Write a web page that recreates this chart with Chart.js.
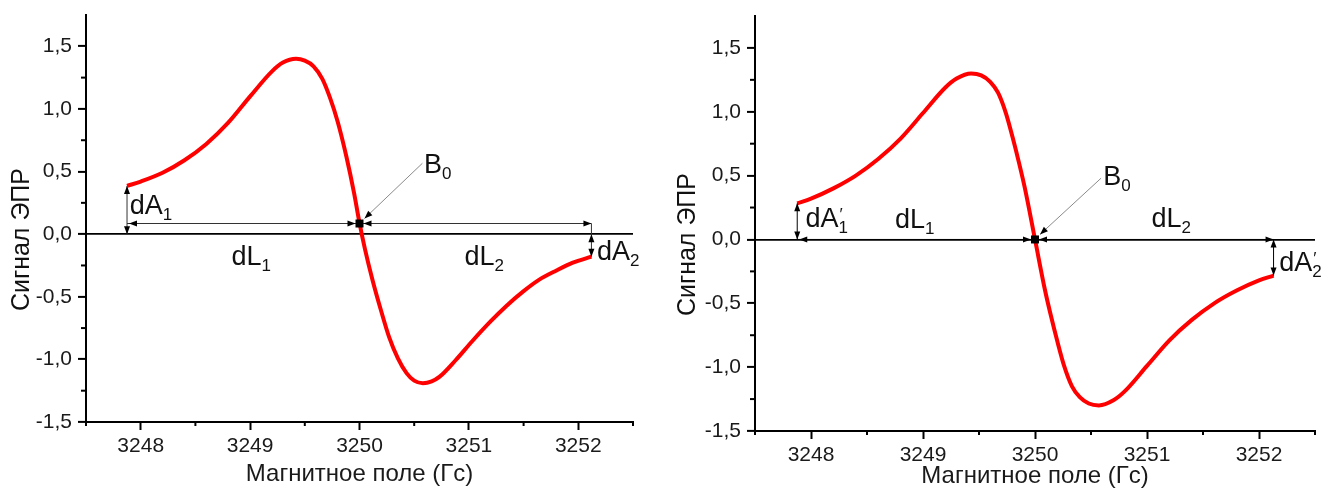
<!DOCTYPE html>
<html>
<head>
<meta charset="utf-8">
<script src="https://cdn.jsdelivr.net/npm/chart.js@4"></script>
<style>
  body { margin: 0; background: #fff; }
  canvas { position: absolute; top: 0; }
</style>
</head>
<body>
<canvas id="left" width="663" height="491" style="left:0"></canvas>
<canvas id="right" width="663" height="491" style="left:663px"></canvas>
<script>
// магнитное поле (Гс) и сигнал ЭПР
const fieldL = [3247.875, 3248.0, 3248.2, 3248.4, 3248.6, 3248.8, 3249.0, 3249.2, 3249.3, 3249.42,
  3249.5, 3249.58, 3249.66, 3249.73, 3249.8, 3249.88, 3249.95, 3250.0, 3250.05, 3250.12, 3250.2,
  3250.27, 3250.35, 3250.43, 3250.5, 3250.58, 3250.66, 3250.73, 3250.88, 3251.03, 3251.2,
  3251.34, 3251.5, 3251.64, 3251.8, 3251.95, 3252.12];
const signalL = [0.385, 0.42, 0.49, 0.59, 0.72, 0.89, 1.10, 1.30, 1.37, 1.40,
  1.385, 1.34, 1.24, 1.09, 0.90, 0.62, 0.33, 0.09, -0.12, -0.37, -0.62,
  -0.82, -0.99, -1.11, -1.17, -1.19, -1.175, -1.14, -1.005, -0.855, -0.695,
  -0.575, -0.455, -0.365, -0.29, -0.228, -0.18];

const fieldR = [3247.877, 3248.0, 3248.2, 3248.4, 3248.6, 3248.8, 3249.0, 3249.2, 3249.3, 3249.43,
  3249.52, 3249.6, 3249.67, 3249.74, 3249.8, 3249.86, 3249.91, 3250.0, 3250.09, 3250.14,
  3250.2, 3250.26, 3250.33, 3250.4, 3250.48, 3250.57, 3250.7, 3250.8, 3251.0, 3251.2,
  3251.4, 3251.6, 3251.8, 3252.0, 3252.13];
const signalR = [0.283, 0.32, 0.40, 0.50, 0.63, 0.79, 0.99, 1.19, 1.26, 1.30,
  1.285, 1.235, 1.15, 0.99, 0.80, 0.59, 0.40, 0.0, -0.40, -0.59,
  -0.80, -0.99, -1.15, -1.235, -1.285, -1.30, -1.26, -1.19, -0.99, -0.79,
  -0.63, -0.50, -0.40, -0.32, -0.283];

const xTicks = [3248, 3249, 3250, 3251, 3252];
const xMinorTicks = [3247.5, 3248.5, 3249.5, 3250.5, 3251.5, 3252.5];
const yTicks = [-1.5, -1.0, -0.5, 0, 0.5, 1.0, 1.5];
const yMinorTicks = [-1.25, -0.75, -0.25, 0.25, 0.75, 1.25];

// подписи на графиках (в единицах осей)
const labelsL = [
  { main: 'dA', sub: '1', at: [3247.90, 0.16] },
  { main: 'dL', sub: '1', at: [3248.83, -0.247] },
  { main: 'B', sub: '0', at: [3250.59, 0.487] },
  { main: 'dL', sub: '2', at: [3250.96, -0.247] },
  { main: 'dA', sub: '2', at: [3252.17, -0.207] }
];
const labelsR = [
  { main: 'dA', sub: '1', prime: true, at: [3247.95, 0.10] },
  { main: 'dL', sub: '1', at: [3248.75, 0.09] },
  { main: 'B', sub: '0', at: [3250.61, 0.426] },
  { main: 'dL', sub: '2', at: [3251.04, 0.10] },
  { main: 'dA', sub: '2', prime: true, at: [3252.18, -0.25] }
];

const FONT = '"Liberation Sans", Arial, sans-serif';

function segment(ctx, x1, y1, x2, y2) {
  ctx.beginPath();
  ctx.moveTo(x1, y1);
  ctx.lineTo(x2, y2);
  ctx.stroke();
}

function arrowHead(ctx, x, y, dx, dy) {
  const len = 8, half = 3;
  const bx = x - dx * len, by = y - dy * len;
  ctx.beginPath();
  ctx.moveTo(x, y);
  ctx.lineTo(bx - dy * half, by + dx * half);
  ctx.lineTo(bx + dy * half, by - dx * half);
  ctx.closePath();
  ctx.fill();
}

function drawLabel(ctx, x, y, l) {
  ctx.font = '27px ' + FONT;
  ctx.fillText(l.main, x, y);
  const w = ctx.measureText(l.main).width;
  ctx.font = '17px ' + FONT;
  if (l.prime) ctx.fillText('′', x + w + 1, y - 7);
  ctx.fillText(l.sub, x + w, y + 6);
}

const eprMarks = {
  id: 'eprMarks',
  afterDatasetsDraw(chart, args, o) {
    const { ctx, chartArea: a, scales: { x, y } } = chart;
    const px = v => x.getPixelForValue(v), py = v => y.getPixelForValue(v);
    ctx.save();

    // малые деления
    ctx.strokeStyle = '#000';
    ctx.lineWidth = 2;
    xMinorTicks.forEach(v => segment(ctx, px(v), a.bottom, px(v), a.bottom + 4));
    yMinorTicks.forEach(v => segment(ctx, a.left - 5, py(v), a.left, py(v)));

    const bx = px(o.b0[0]), by = py(o.b0[1]);
    const sx = px(o.start[0]), sy = py(o.start[1]);
    const ex = px(o.end[0]), ey = py(o.end[1]);
    const ly = py(o.lineY), zy = py(0);

    ctx.strokeStyle = o.lineColor;
    ctx.fillStyle = '#000';
    ctx.lineWidth = 1;
    // dL1, dL2
    segment(ctx, sx, ly, ex, ly);
    arrowHead(ctx, sx + 2, ly, -1, 0);
    arrowHead(ctx, bx - 4, ly, 1, 0);
    arrowHead(ctx, bx + 4, ly, -1, 0);
    arrowHead(ctx, ex, ly, 1, 0);
    // dA1, dA2
    segment(ctx, sx, sy, sx, zy);
    arrowHead(ctx, sx, sy, 0, -1);
    arrowHead(ctx, sx, zy, 0, 1);
    segment(ctx, ex, ly, ex, ey);
    arrowHead(ctx, ex, zy, 0, -1);
    arrowHead(ctx, ex, ey, 0, 1);

    // указатель B0
    const fx = px(o.pointer[0]), fy = py(o.pointer[1]);
    const tx = bx + 5, ty = by - 5;
    ctx.strokeStyle = '#8a8a8a';
    segment(ctx, fx, fy, tx, ty);
    const d = Math.hypot(tx - fx, ty - fy);
    arrowHead(ctx, tx, ty, (tx - fx) / d, (ty - fy) / d);
    ctx.fillRect(bx - 4, by - 4, 8, 8);

    ctx.fillStyle = '#111';
    ctx.textAlign = 'left';
    ctx.textBaseline = 'alphabetic';
    o.labels.forEach(l => drawLabel(ctx, px(l.at[0]), py(l.at[1]), l));

    // подпись оси Y
    ctx.translate(o.yTitleX, (a.top + a.bottom) / 2 + 21);
    ctx.rotate(-Math.PI / 2);
    ctx.textAlign = 'center';
    ctx.textBaseline = 'middle';
    ctx.font = '25px ' + FONT;
    ctx.fillText('Сигнал ЭПР', 0, 0);
    ctx.restore();
  }
};

function makeChart(id, field, signal, area, marks) {
  const ctx = document.getElementById(id).getContext('2d');
  return new Chart(ctx, {
    type: 'line',
    data: {
      datasets: [{
        data: field.map((f, i) => ({ x: f, y: signal[i] })),
        borderColor: '#ff0000',
        borderWidth: 4,
        pointRadius: 0,
        fill: false,
        cubicInterpolationMode: 'monotone'
      }]
    },
    options: {
      responsive: false,
      animation: false,
      layout: { padding: { top: area.top, right: 663 - area.right, left: 0, bottom: 0 } },
      scales: {
        x: {
          type: 'linear',
          min: 3247.5,
          max: 3252.5,
          afterBuildTicks: s => { s.ticks = xTicks.map(v => ({ value: v })); },
          afterFit: s => { s.height = 491 - area.bottom; s.paddingLeft = 0; s.paddingRight = 0; },
          grid: { drawOnChartArea: false, tickLength: 8, tickWidth: 2, tickColor: '#000' },
          border: { color: '#000', width: 2 },
          ticks: {
            color: '#1a1a1a',
            font: { family: FONT, size: 21 },
            padding: 4,
            maxRotation: 0,
            autoSkip: false,
            callback: v => String(v)
          },
          title: {
            display: true,
            text: 'Магнитное поле (Гс)',
            color: '#1a1a1a',
            font: { family: FONT, size: 24 },
            padding: { top: 0, bottom: area.titlePad }
          }
        },
        y: {
          min: -1.5,
          max: 1.75,
          afterBuildTicks: s => { s.ticks = yTicks.map(v => ({ value: v })); },
          afterFit: s => { s.width = area.left; s.paddingTop = 0; s.paddingBottom = 0; },
          grid: {
            color: c => (c.tick && c.tick.value === 0 ? '#000' : 'rgba(0,0,0,0)'),
            lineWidth: 1.8,
            tickLength: 8,
            tickWidth: 2,
            tickColor: '#000'
          },
          border: { color: '#000', width: 2 },
          ticks: {
            color: '#1a1a1a',
            font: { family: FONT, size: 21 },
            padding: 6,
            autoSkip: false,
            callback: v => v.toFixed(1).replace('.', ',')
          }
        }
      },
      plugins: {
        legend: { display: false },
        tooltip: { enabled: false },
        eprMarks: marks
      }
    },
    plugins: [eprMarks]
  });
}

makeChart('left', fieldL, signalL,
  { left: 86, right: 633, top: 15, bottom: 422, titlePad: 2 },
  { b0: [3250, 0.085], lineY: 0.085, start: [3247.875, 0.385], end: [3252.12, -0.18],
    pointer: [3250.575, 0.566], lineColor: '#333', labels: labelsL, yTitleX: 22 });

makeChart('right', fieldR, signalR,
  { left: 92, right: 652, top: 16, bottom: 431, titlePad: 0 },
  { b0: [3250, 0], lineY: 0, start: [3247.877, 0.283], end: [3252.13, -0.283],
    pointer: [3250.59, 0.48], lineColor: '#000', labels: labelsR, yTitleX: 25 });
</script>
</body>
</html>
